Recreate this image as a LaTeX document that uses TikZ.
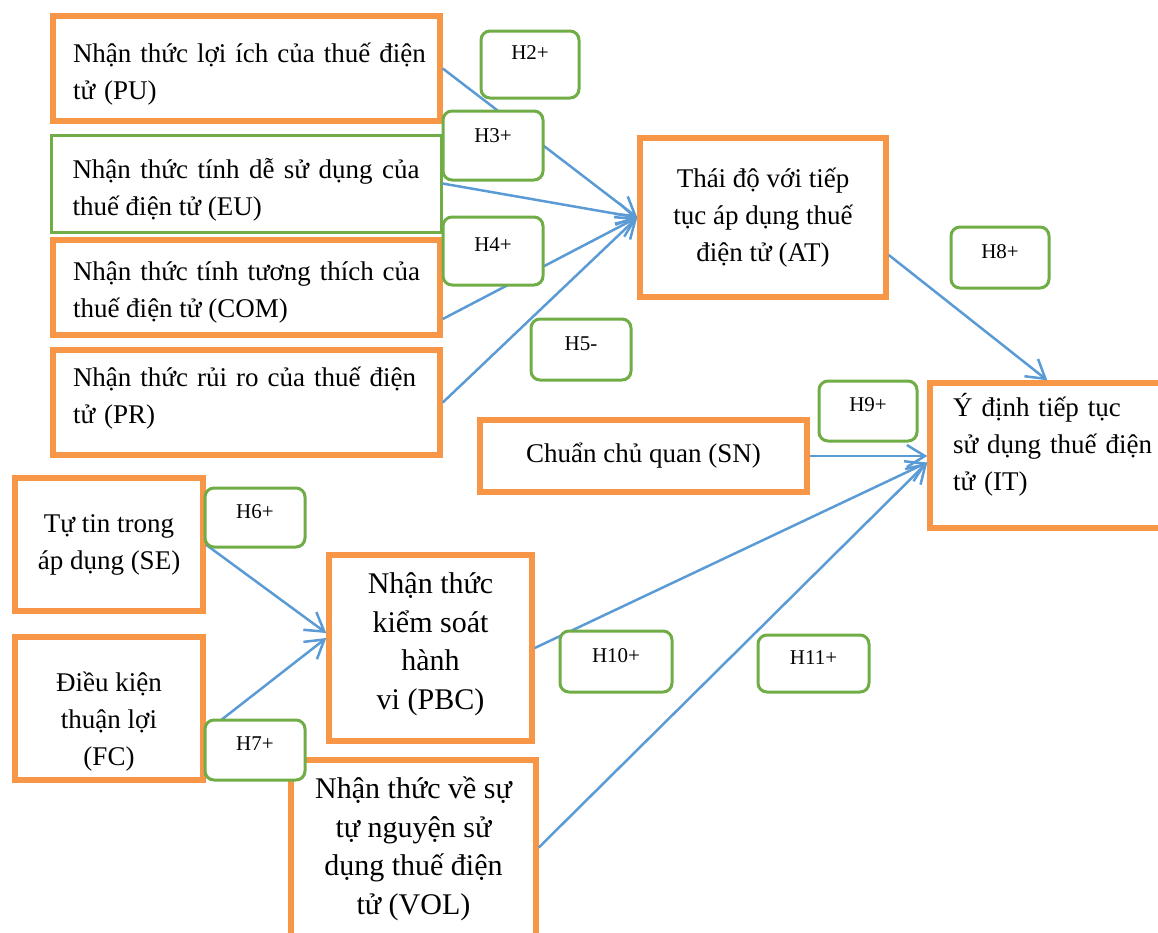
\documentclass[tikz,border=0pt]{standalone}
\usepackage{fontspec}
\setmainfont{Liberation Serif}
\usetikzlibrary{arrows.meta}

\definecolor{boxorange}{HTML}{F79646}
\definecolor{hypgreen}{HTML}{70AD47}
\definecolor{linkblue}{HTML}{5B9BD5}

\newcommand{\bodysize}{\fontsize{27pt}{37pt}\selectfont}
\newcommand{\largesize}{\fontsize{30pt}{38.5pt}\selectfont}
\newcommand{\hypsize}{\fontsize{21pt}{25pt}\selectfont}
\newcommand{\padbelow}[1]{\rule[-#1]{0pt}{#1}}
\newcommand{\padabove}[1]{\rule{0pt}{#1}}

\begin{document}
\begin{tikzpicture}[x=1pt, y=-1pt,
  factor/.style={draw=boxorange, line width=5.5pt, fill=white, font=\bodysize, inner sep=0pt},
  hyp/.style={draw=hypgreen, line width=3pt, rounded corners=9pt, fill=white, font=\hypsize, inner sep=0pt, text height=15pt, text depth=14pt},
  link/.style={draw=linkblue, line width=2.5pt, -{Straight Barb[length=18pt, width=22pt]}}]
\clip (0,0) rectangle (1158,932);
\node[factor, minimum width=387pt, minimum height=105pt, text width=347pt, align=left] (PU) at (246.5, 68.5) {\padabove{30pt}\mbox{Nhận thức lợi ích của thuế điện}\\tử (PU)};
\node[factor, draw=hypgreen, line width=3pt, minimum width=390pt, minimum height=97pt, text width=347pt, align=justify] (EU) at (246, 183.5) {\padabove{33pt}Nhận thức tính dễ sử dụng của\linebreak thuế điện tử (EU)};
\node[factor, minimum width=387pt, minimum height=95pt, text width=347pt, align=justify] (COM) at (246.5, 287.5) {\padabove{29pt}Nhận thức tính tương thích của\linebreak thuế điện tử (COM)};
\node[factor, minimum width=387pt, minimum height=105pt, text width=347pt, align=left] (PR) at (246.5, 402.5) {Nhận thức rủi ro của thuế điện\\tử (PR)\padbelow{15pt}};
\node[factor, minimum width=246pt, minimum height=159pt, align=center] (AT) at (763, 217.5) {Thái độ với tiếp\\tục áp dụng thuế\\điện tử (AT)};
\node[factor, minimum width=260pt, minimum height=145pt, text width=214pt, align=left] (IT) at (1060, 455.5) {Ý định tiếp tục\\sử dụng thuế điện\\tử (IT)\padbelow{27pt}};
\node[factor, minimum width=327pt, minimum height=72pt] (SN) at (643.5, 456) {Chuẩn chủ quan (SN)};
\node[factor, minimum width=188pt, minimum height=133pt, align=center] (SE) at (109, 544.5) {Tự tin trong\\áp dụng (SE)};
\node[factor, minimum width=188pt, minimum height=143pt, align=center] (FC) at (109, 708.5) {\padabove{46pt}Điều kiện\\thuận lợi\\(FC)};
\node[factor, font=\largesize, minimum width=203pt, minimum height=186pt, align=center] (PBC) at (430.5, 648) {Nhận thức\\kiểm soát\\hành\\vi (PBC)\padbelow{14pt}};
\node[factor, font=\largesize, minimum width=245pt, minimum height=185pt, align=center] (VOL) at (413.5, 852.5) {Nhận thức về sự\\tự nguyện sử\\dụng thuế điện\\tử (VOL)\padbelow{14pt}};
\draw[link] (PU.east) -- (AT.west);
\draw[link] (EU.east) -- (AT.west);
\draw[link] ([yshift=-31.5pt]COM.east) -- (AT.west);
\draw[link] (PR.east) -- (AT.west);
\draw[link] ([yshift=-37.5pt]AT.east) -- ([xshift=120pt]IT.north west);
\draw[link] (SN.east) -- (SN.east -| IT.west);
\draw[link] (PBC.east) -- ([yshift=-7pt]IT.west);
\draw[link] ([yshift=5pt]VOL.east) -- ([yshift=-7pt]IT.west);
\draw[link] (SE.east) -- ([yshift=15pt]PBC.west);
\draw[link] ([yshift=-23.5pt]FC.east) -- ([yshift=10pt]PBC.west);
\node[hyp, text depth=26pt, minimum width=98pt, minimum height=67pt] (H2) at (530, 64.5) {H2+};
\node[hyp, text depth=22pt, minimum width=100pt, minimum height=69pt] (H3) at (493, 145.5) {H3+};
\node[hyp, minimum width=100pt, minimum height=68pt] (H4) at (493, 251) {H4+};
\node[hyp, minimum width=100pt, minimum height=61pt] (H5) at (581, 349.5) {H5-};
\node[hyp, minimum width=98pt, minimum height=61pt] (H8) at (1000, 257.5) {H8+};
\node[hyp, minimum width=98pt, minimum height=60pt] (H9) at (868, 411) {H9+};
\node[hyp, minimum width=100pt, minimum height=59pt] (H6) at (255, 517.5) {H6+};
\node[hyp, minimum width=100pt, minimum height=60pt] (H7) at (255, 750) {H7+};
\node[hyp, minimum width=112pt, minimum height=61pt] (H10) at (616, 661.5) {H10+};
\node[hyp, minimum width=111pt, minimum height=57pt] (H11) at (813.5, 663.5) {H11+};
\end{tikzpicture}
\end{document}
